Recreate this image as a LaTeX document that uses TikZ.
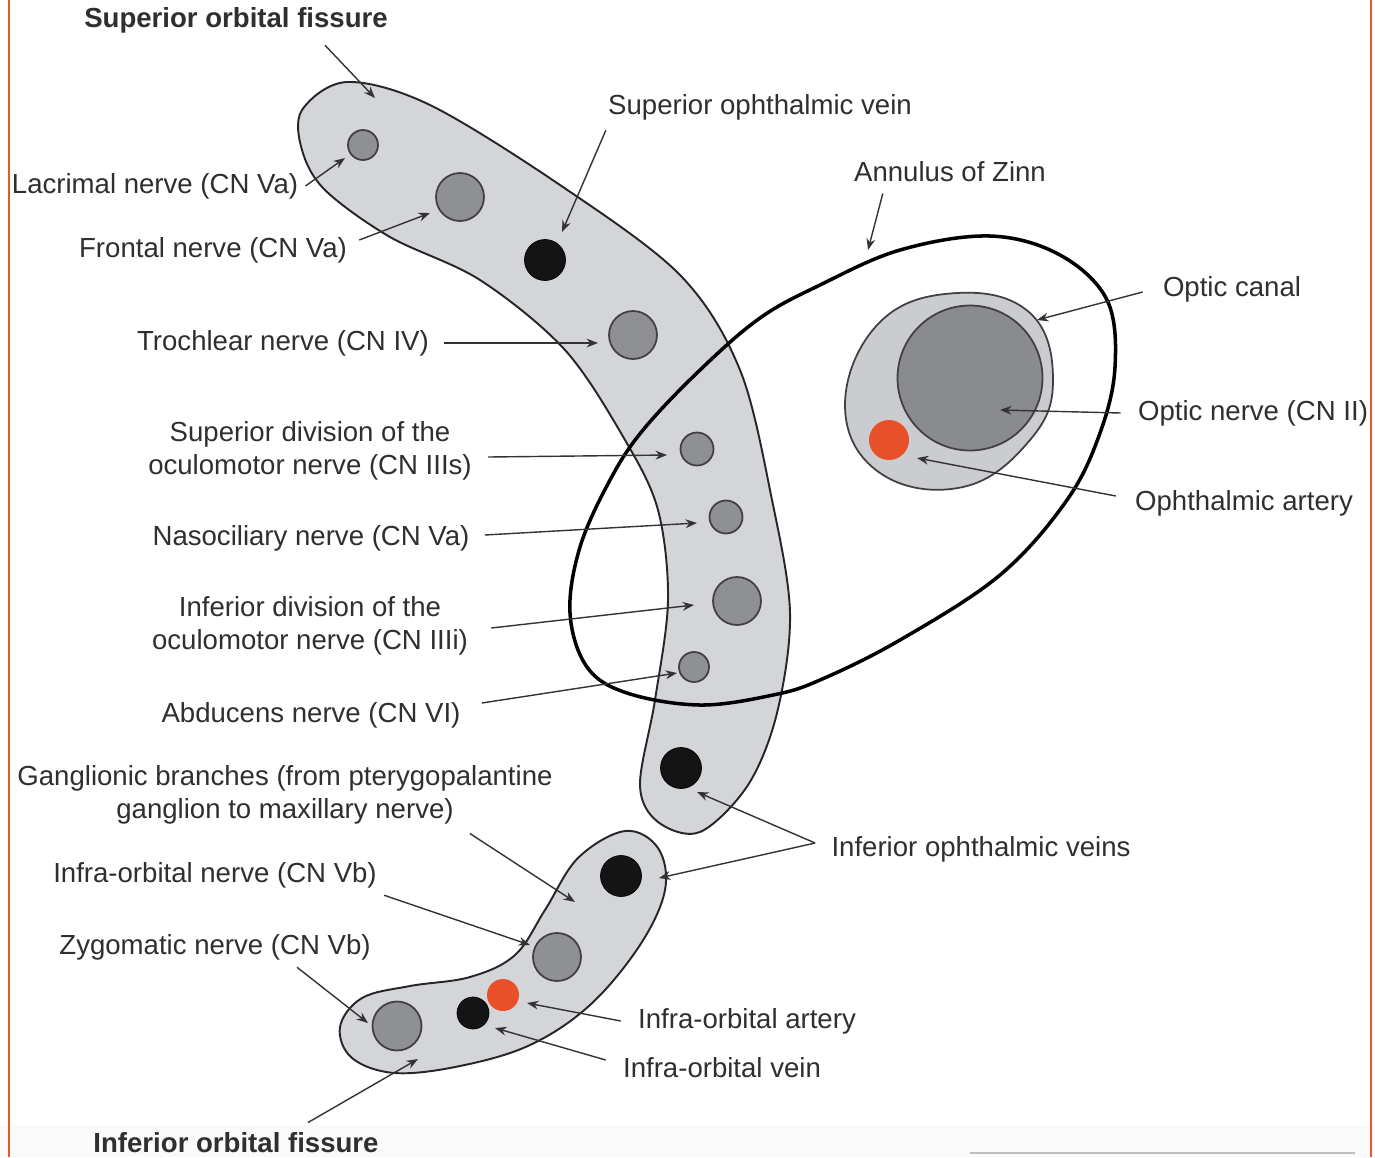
\documentclass[tikz,border=0pt]{standalone}
\usepackage{fontspec}
\setmainfont{Liberation Sans}
\usetikzlibrary{arrows.meta,calc}

\definecolor{fissgray}{HTML}{D3D5D8}
\definecolor{nervegray}{HTML}{8F9094}
\definecolor{optgray}{HTML}{8A8B8F}
\definecolor{canalgray}{HTML}{CACCD0}
\definecolor{arteryred}{HTML}{E8502A}
\definecolor{textgray}{HTML}{2F2F2F}
\definecolor{frameorange}{HTML}{E2592E}

\begin{document}
\begin{tikzpicture}[
    x=0.02cm, y=-0.02cm,
    >={Stealth[length=6.5pt,width=5pt]},
    every node/.style={font=\fontsize{15.7}{18.6}\selectfont, text=textgray},
    lbl/.style={inner sep=4pt, align=center},
    nerve/.style={circle, inner sep=0pt, draw=black!75, line width=1pt, fill=nervegray},
    vein/.style={circle, inner sep=0pt, draw=black, fill=black!92},
    artery/.style={circle, inner sep=0pt, fill=arteryred},
    fissure/.style={draw=black!85, line width=1.1pt, fill=fissgray},
    pointer/.style={->, draw=black!80, line width=0.8pt}
]
\useasboundingbox (0,0) rectangle (1375,1157);

% Page frame
\fill[white] (0,0) rectangle (1375,1157);
\fill[black!2] (0,1125) rectangle (1375,1157);
\draw[black!25, line width=1.5pt] (970,1153) -- (1355,1153);
\draw[frameorange, line width=1.5pt] (9,0) -- (9,1157);
\draw[frameorange, line width=1.5pt] (1371,0) -- (1371,1157);

% Superior orbital fissure
\draw[fissure] plot[smooth cycle, tension=0.55] coordinates {
    (302,110) (347,82) (430,105) (560,185) (680,275) (740,370) (772,500)
    (790,613) (777,713) (748,785) (700,832) (658,822) (640,785) (655,700)
    (668,600) (658,510) (625,440) (565,350) (480,280) (390,237) (325,190)
    (302,150)};

% Inferior orbital fissure
\draw[fissure] plot[smooth cycle, tension=0.6] coordinates {
    (625,831) (658,848) (665,890) (640,945) (590,1005) (530,1045)
    (460,1066) (395,1073) (352,1058) (340,1027) (362,998) (410,986)
    (470,977) (515,955) (545,910) (578,858)};

% Optic canal
\draw[fill=canalgray, draw=black!75, line width=1pt] plot[smooth cycle, tension=0.7] coordinates {
    (845,405) (880,322) (957,293) (1030,313) (1053,380) (1030,440)
    (963,487) (880,473)};

% Annulus of Zinn
\draw[black, line width=2pt] plot[smooth cycle, tension=0.6] coordinates {
    (570,613) (580,547) (610,480) (643,430) (700,370) (760,318) (820,285)
    (900,250) (990,236) (1060,255) (1107,300) (1115,367) (1100,433)
    (1067,500) (1000,575) (900,640) (820,680) (773,695) (700,705)
    (627,693) (587,667)};

% Contents of the superior orbital fissure
\node[nerve, minimum size=0.6cm] (lac) at (363,145) {};
\node[nerve, minimum size=0.96cm] (fro) at (460,197) {};
\node[vein, minimum size=0.82cm] (supv) at (545,260) {};
\node[nerve, minimum size=0.96cm] (tro) at (633,335) {};
\node[nerve, minimum size=0.66cm] (sdiv) at (697,449) {};
\node[nerve, minimum size=0.66cm] (nas) at (726,517) {};
\node[nerve, minimum size=0.96cm] (idiv) at (737,601) {};
\node[nerve, minimum size=0.6cm] (abd) at (694,667) {};
\node[vein, minimum size=0.82cm] (iov) at (681,768) {};

% Contents of the inferior orbital fissure
\node[vein, minimum size=0.82cm] (iovb) at (621,876) {};
\node[nerve, minimum size=0.96cm] (ion) at (557,957) {};
\node[artery, minimum size=0.64cm] (ioa) at (503,995) {};
\node[vein, minimum size=0.64cm] (iovn) at (473,1013) {};
\node[nerve, minimum size=0.98cm] (zyg) at (397,1026) {};

% Optic canal contents
\node[nerve, fill=optgray, minimum size=2.9cm] (optn) at (970,378) {};
\node[artery, minimum size=0.8cm] (opha) at (889,440) {};

% Labels
\node[lbl] (sofl) at (236,20) {\textbf{Superior orbital fissure}};
\node[lbl] (sovl) at (760,107) {Superior ophthalmic vein};
\node[lbl] (azl) at (950,172) {Annulus of Zinn};
\node[lbl] (ocl) at (1232,289) {Optic canal};
\node[lbl] (onl) at (1253,413) {Optic nerve (CN II)};
\node[lbl] (oal) at (1244,503) {Ophthalmic artery};
\node[lbl] (lacl) at (155,186) {Lacrimal nerve (CN Va)};
\node[lbl] (frol) at (213,250) {Frontal nerve (CN Va)};
\node[lbl] (trol) at (283,343) {Trochlear nerve (CN IV)};
\node[lbl] (sdl) at (310,451) {Superior division of the\\oculomotor nerve (CN IIIs)};
\node[lbl] (nasl) at (311,538) {Nasociliary nerve (CN Va)};
\node[lbl] (idl) at (310,626) {Inferior division of the\\oculomotor nerve (CN IIIi)};
\node[lbl] (abdl) at (311,715) {Abducens nerve (CN VI)};
\node[lbl] (gbl) at (285,795) {Ganglionic branches (from pterygopalantine\\ganglion to maxillary nerve)};
\node[lbl] (iol) at (215,875) {Infra-orbital nerve (CN Vb)};
\node[lbl] (zygl) at (215,947) {Zygomatic nerve (CN Vb)};
\node[lbl] (iovl) at (981,849) {Inferior ophthalmic veins};
\node[lbl] (ioal) at (747,1021) {Infra-orbital artery};
\node[lbl] (iovnl) at (722,1068) {Infra-orbital vein};
\node[lbl] (iofl) at (236,1143) {\textbf{Inferior orbital fissure}};

% Arrow tips
\coordinate (sofT) at (375,98);
\coordinate (sovT) at (562,232);
\coordinate (azT) at (868,250);
\coordinate (ocT) at (1037,320);
\coordinate (onT) at (1000,410);
\coordinate (oaT) at (917,458);
\coordinate (lacT) at (345,158);
\coordinate (froT) at (430,213);
\coordinate (troT) at (598,343);
\coordinate (sdT) at (667,455);
\coordinate (nasT) at (697,523);
\coordinate (idT) at (694,605);
\coordinate (abdT) at (677,673);
\coordinate (gbT) at (575,902);
\coordinate (ioT) at (530,945);
\coordinate (zygT) at (368,1023);
\coordinate (iovT) at (697,792);
\coordinate (iovbT) at (659,878);
\coordinate (ioaT) at (527,1003);
\coordinate (iovnT) at (495,1028);
\coordinate (iofT) at (418,1059);

% Arrows
\draw[pointer] ($(sofl.south)+(89,5)$) -- (sofT);
\draw[pointer] ($(sovl.south west)+(5,3)$) -- (sovT);
\draw[pointer] ($(azl.south west)+(36,4)$) -- (azT);
\draw[pointer] ($(ocl.west)+(-13,3)$) -- (ocT);
\draw[pointer] ($(onl.west)+(-10,0)$) -- (onT);
\draw[pointer] ($(oal.west)+(-12,-7)$) -- (oaT);
\draw[pointer] (lacl.east) -- (lacT);
\draw[pointer] ($(frol.east)+(5,-10)$) -- (froT);
\draw[pointer] ($(trol.east)+(8,0)$) -- (troT);
\draw[pointer] ($(sdl.east)+(9,6)$) -- (sdT);
\draw[pointer] ($(nasl.east)+(8,-3)$) -- (nasT);
\draw[pointer] ($(idl.east)+(16,2)$) -- (idT);
\draw[pointer] ($(abdl.east)+(14,-12)$) -- (abdT);
\draw[pointer] ($(gbl.south)+(185,2)$) -- (gbT);
\draw[pointer] (iol.south east) -- (ioT);
\draw[pointer] ($(zygl.south)+(82,0)$) -- (zygT);
\draw[pointer] ($(iovl.west)+(-9,-6)$) -- (iovT);
\draw[pointer] ($(iovl.west)+(-9,-6)$) -- (iovbT);
\draw[pointer] ($(ioal.west)+(-10,0)$) -- (ioaT);
\draw[pointer] ($(iovnl.west)+(-10,-8)$) -- (iovnT);
\draw[pointer] ($(iofl.north)+(72,-3)$) -- (iofT);

\end{tikzpicture}
\end{document}
